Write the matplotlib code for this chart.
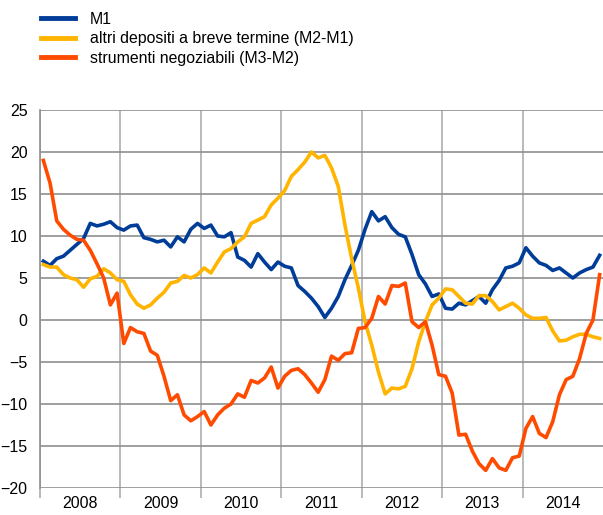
import numpy as np
import matplotlib
matplotlib.use("Agg")
import matplotlib.pyplot as plt

plt.rcParams['font.family'] = ['Liberation Sans', 'DejaVu Sans']

# Monthly values, Jan 2008 - Dec 2014 (annual % changes) ==================== #
m1 = [7.0, 6.5, 7.3, 7.6, 8.3, 9.0, 9.7, 11.5, 11.2, 11.4, 11.7, 11.0,
      10.7, 11.2, 11.3, 9.8, 9.6, 9.3, 9.5, 8.7, 9.9, 9.3, 10.8, 11.5,
      10.9, 11.3, 10.0, 9.9, 10.4, 7.5, 7.1, 6.3, 7.9, 6.9, 6.0, 6.9,
      6.4, 6.2, 4.1, 3.4, 2.6, 1.6, 0.3, 1.4, 2.8, 4.8, 6.5, 8.3,
      10.8, 12.9, 11.8, 12.3, 11.0, 10.2, 9.9, 7.8, 5.4, 4.3, 2.8, 3.1,
      1.4, 1.3, 2.0, 1.8, 2.3, 2.8, 2.0, 3.6, 4.7, 6.2, 6.4, 6.8,
      8.6, 7.6, 6.8, 6.5, 5.9, 6.2, 5.6, 5.0, 5.6, 6.0, 6.3, 7.7]

m2_m1 = [6.6, 6.3, 6.3, 5.4, 5.0, 4.8, 3.9, 4.9, 5.2, 6.1, 5.6, 4.8,
         4.6, 3.0, 1.9, 1.4, 1.8, 2.6, 3.3, 4.4, 4.6, 5.3, 5.0, 5.4,
         6.2, 5.6, 6.9, 8.1, 8.5, 9.3, 9.9, 11.5, 11.9, 12.3, 13.7, 14.5,
         15.4, 17.1, 17.9, 18.8, 20.0, 19.3, 19.6, 18.1, 15.9, 11.3, 7.3, 3.8,
         -0.2, -3.0, -6.2, -8.8, -8.1, -8.2, -7.9, -5.8, -2.6, -0.2, 1.8, 2.6,
         3.7, 3.6, 2.8, 2.0, 1.9, 2.9, 2.9, 2.2, 1.2, 1.6, 2.0, 1.4,
         0.6, 0.2, 0.2, 0.3, -1.3, -2.5, -2.4, -2.0, -1.7, -1.7, -2.0, -2.2]

m3_m2 = [19.0, 16.3, 11.8, 10.8, 10.1, 9.6, 9.5, 8.3, 6.7, 5.0, 1.8, 3.2,
         -2.8, -0.9, -1.4, -1.6, -3.7, -4.2, -6.7, -9.6, -8.9, -11.3, -12.0, -11.5,
         -10.9, -12.5, -11.3, -10.5, -10.0, -8.8, -9.2, -7.2, -7.5, -6.9, -5.6, -8.1,
         -6.7, -6.0, -5.8, -6.5, -7.5, -8.6, -7.1, -4.3, -4.8, -4.0, -3.9, -1.0,
         -0.9, 0.2, 2.8, 1.9, 4.1, 4.0, 4.4, -0.2, -0.9, -0.2, -3.0, -6.5,
         -6.7, -8.7, -13.7, -13.6, -15.6, -17.1, -17.9, -16.5, -17.6, -17.9, -16.4, -16.2,
         -12.9, -11.5, -13.5, -14.0, -12.1, -8.9, -7.1, -6.7, -4.6, -1.6, 0.0, 5.4]

years = [2008, 2009, 2010, 2011, 2012, 2013, 2014]
labels = ['M1', 'altri depositi a breve termine (M2-M1)',
          'strumenti negoziabili (M3-M2)']
colors = ['#003d99', '#ffb400', '#ff4b00']

# time axis: middle of each month -------------------------------------------- #
t = 2008 + (np.arange(len(m1)) + 0.5) / 12

fig = plt.figure(figsize=(6.03, 5.15), dpi=100)
ax = fig.add_axes([40/603, 1 - 488/515, 1 - 40/603, 378/515])

for s, lab, c in zip([m1, m2_m1, m3_m2], labels, colors):
    ax.plot(t, s, color=c, lw=2.6, label=lab, solid_joinstyle='round')

ax.set_xlim(2008, 2015)
ax.set_ylim(-20, 25)
ax.set_yticks(np.arange(-20, 26, 5))

# year boundaries as major ticks, labels on minor ticks ---------------------- #
ax.set_xticks(years)
ax.set_xticklabels([])
ax.set_xticks([y + 0.5 for y in years], minor=True)
ax.set_xticklabels([str(y) for y in years], minor=True)
ax.tick_params(axis='x', which='major', length=7, color='#b4b4b4', width=1.3)
ax.tick_params(axis='x', which='minor', length=0, pad=6, labelsize=11.5)
ax.tick_params(axis='y', length=0, pad=9, labelsize=11.5)

ax.grid(axis='y', color='#8f8f8f', lw=1.2)
ax.grid(axis='x', which='major', color='#b4b4b4', lw=1.3)
ax.set_axisbelow(True)

for side in ['top', 'right', 'bottom']:
    ax.spines[side].set_visible(False)
ax.spines['left'].set_color('#8f8f8f')
ax.spines['left'].set_linewidth(1.2)

leg = fig.legend(loc='upper left', bbox_to_anchor=(41/603, 1 - 11.5/515),
                 frameon=False, fontsize=11.4, handlelength=2.15,
                 handletextpad=0.95, labelspacing=0.3, borderpad=0,
                 borderaxespad=0)
for line in leg.get_lines():
    line.set_linewidth(3.5)

fig.savefig('out.png', dpi=100)
